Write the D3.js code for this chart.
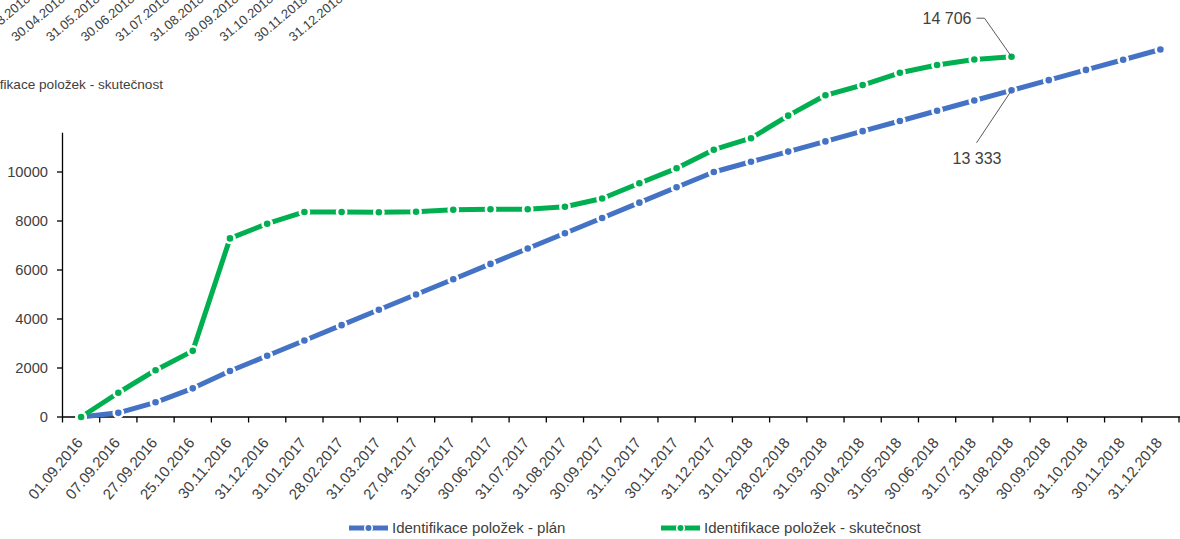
<!DOCTYPE html>
<html>
<head>
<meta charset="utf-8">
<script src="https://cdn.jsdelivr.net/npm/d3@7/dist/d3.min.js"></script>
<style>
  html, body { margin: 0; padding: 0; background: #fff; overflow: hidden; }
  svg { display: block; }
  text { font-family: "Liberation Sans", Arial, sans-serif; fill: #404040; }
</style>
</head>
<body>
<svg id="chart" width="1180" height="539"></svg>
<script>
const categories = ["01.09.2016","07.09.2016","27.09.2016","25.10.2016","30.11.2016","31.12.2016",
  "31.01.2017","28.02.2017","31.03.2017","27.04.2017","31.05.2017","30.06.2017","31.07.2017",
  "31.08.2017","30.09.2017","31.10.2017","30.11.2017","31.12.2017","31.01.2018","28.02.2018",
  "31.03.2018","30.04.2018","31.05.2018","30.06.2018","31.07.2018","31.08.2018","30.09.2018",
  "31.10.2018","30.11.2018","31.12.2018"];
const planValues = [0,170,600,1170,1875,2500,3125,3750,4375,5000,5625,6250,6875,7500,8125,8750,
  9375,10000,10417,10833,11250,11667,12083,12500,12917,13333,13750,14167,14583,15000];
const actualValues = [0,990,1910,2700,7290,7890,8370,8370,8360,8380,8460,8480,8480,8580,8920,
  9540,10150,10910,11380,12300,13130,13550,14050,14370,14590,14706];
const yTicks = [0,2000,4000,6000,8000,10000];
const seriesNames = ["Identifikace položek - plán","Identifikace položek - skutečnost"];
const labelPlan = "13 333";
const labelActual = "14 706";
// fragments of a neighbouring chart visible at the top-left corner
const strayLabels = ["31.03.2018","30.04.2018","31.05.2018","30.06.2018","31.07.2018",
  "31.08.2018","30.09.2018","31.10.2018","30.11.2018","31.12.2018"];
const strayLegend = "Identifikace položek - skutečnost";

const svg = d3.select("#chart");
const colPlan = "#4472C4", colActual = "#00B050";

const x = d3.scaleBand().domain(categories).range([62.5, 1179]);
const bw = x.bandwidth();
const cx = c => x(c) + bw / 2;
const y = d3.scaleLinear().domain([0, 10000]).range([417, 172]);
const yTop = 11600;

// stray fragments
const stray = svg.append("g");
const strayX = d3.scaleLinear().domain([0, 1]).range([-18.7, 16]);
stray.selectAll("text.sl").data(strayLabels).enter().append("text")
  .attr("class","sl")
  .attr("transform",(d,i)=>`translate(${strayX(i)},42) rotate(-40)`)
  .attr("font-size","13px")
  .text(d=>d);
stray.append("text").attr("x",-33.5).attr("y",89).attr("font-size","13.6px").text(strayLegend);

// axes
const ax = svg.append("g");
ax.append("line").attr("x1",62.5).attr("x2",62.5).attr("y1",y(yTop)).attr("y2",y(0))
  .attr("stroke","#000").attr("stroke-width",1.3);
ax.selectAll("line.yt").data(yTicks).enter().append("line").attr("class","yt")
  .attr("x1",57).attr("x2",62.5).attr("y1",d=>y(d)).attr("y2",d=>y(d))
  .attr("stroke","#000").attr("stroke-width",1.3);
ax.selectAll("text.yl").data(yTicks).enter().append("text").attr("class","yl")
  .attr("x",48).attr("y",d=>y(d)).attr("dy","0.36em").attr("text-anchor","end")
  .attr("font-size","14.7px").text(d=>d);

ax.append("line").attr("x1",62.5).attr("x2",1180).attr("y1",y(0)).attr("y2",y(0))
  .attr("stroke","#000").attr("stroke-width",1.3);
const bounds = categories.map(c => x(c)).concat([x(categories[categories.length-1]) + bw]);
ax.selectAll("line.xt").data(bounds).enter().append("line").attr("class","xt")
  .attr("x1",d=>d).attr("x2",d=>d).attr("y1",y(0)).attr("y2",y(0)+5.5)
  .attr("stroke","#000").attr("stroke-width",1.3);
ax.selectAll("text.xl").data(categories).enter().append("text").attr("class","xl")
  .attr("transform",d=>`translate(${cx(d)+2.5},${y(0)+26}) rotate(-50)`)
  .attr("text-anchor","end")
  .attr("font-size","15px").text(d=>d);

// series
function drawSeries(vals, color) {
  const pts = vals.map((v,i)=>[cx(categories[i]), y(v)]);
  const g = svg.append("g");
  g.append("path").attr("d", d3.line()(pts)).attr("fill","none")
    .attr("stroke",color).attr("stroke-width",5).attr("stroke-linejoin","round");
  g.selectAll("circle").data(pts).enter().append("circle")
    .attr("cx",d=>d[0]).attr("cy",d=>d[1]).attr("r",4.6)
    .attr("fill",color).attr("stroke","#fff").attr("stroke-width",2.6);
  return pts;
}
const pPlan = drawSeries(planValues, colPlan);
const pAct = drawSeries(actualValues, colActual);

// data labels with leader lines
const lp = pPlan[25], la = pAct[25];
svg.append("path").attr("d",`M${la[0]},${la[1]} L${la[0]-27},${la[1]-38.5} L${la[0]-35},${la[1]-38.5}`)
  .attr("fill","none").attr("stroke","#595959").attr("stroke-width",1);
svg.append("text").attr("x",la[0]-40).attr("y",la[1]-38.5).attr("dy","0.36em")
  .attr("text-anchor","end").attr("font-size","16px").text(labelActual);
svg.append("line").attr("x1",lp[0]).attr("y1",lp[1]).attr("x2",lp[0]-35).attr("y2",lp[1]+52.5)
  .attr("stroke","#595959").attr("stroke-width",1);
svg.append("text").attr("x",lp[0]-34.5).attr("y",lp[1]+67.5).attr("dy","0.36em")
  .attr("text-anchor","middle").attr("font-size","16px").text(labelPlan);

// legend
const leg = svg.append("g");
const legItems = [{name:seriesNames[0], color:colPlan, x:349},{name:seriesNames[1], color:colActual, x:661}];
legItems.forEach(it=>{
  leg.append("line").attr("x1",it.x).attr("x2",it.x+39).attr("y1",528).attr("y2",528)
    .attr("stroke",it.color).attr("stroke-width",5);
  leg.append("circle").attr("cx",it.x+19.5).attr("cy",528).attr("r",3.8)
    .attr("fill",it.color).attr("stroke","#fff").attr("stroke-width",1.6);
  leg.append("text").attr("x",it.x+43).attr("y",528).attr("dy","0.36em")
    .attr("font-size","15px").text(it.name);
});
</script>
</body>
</html>
